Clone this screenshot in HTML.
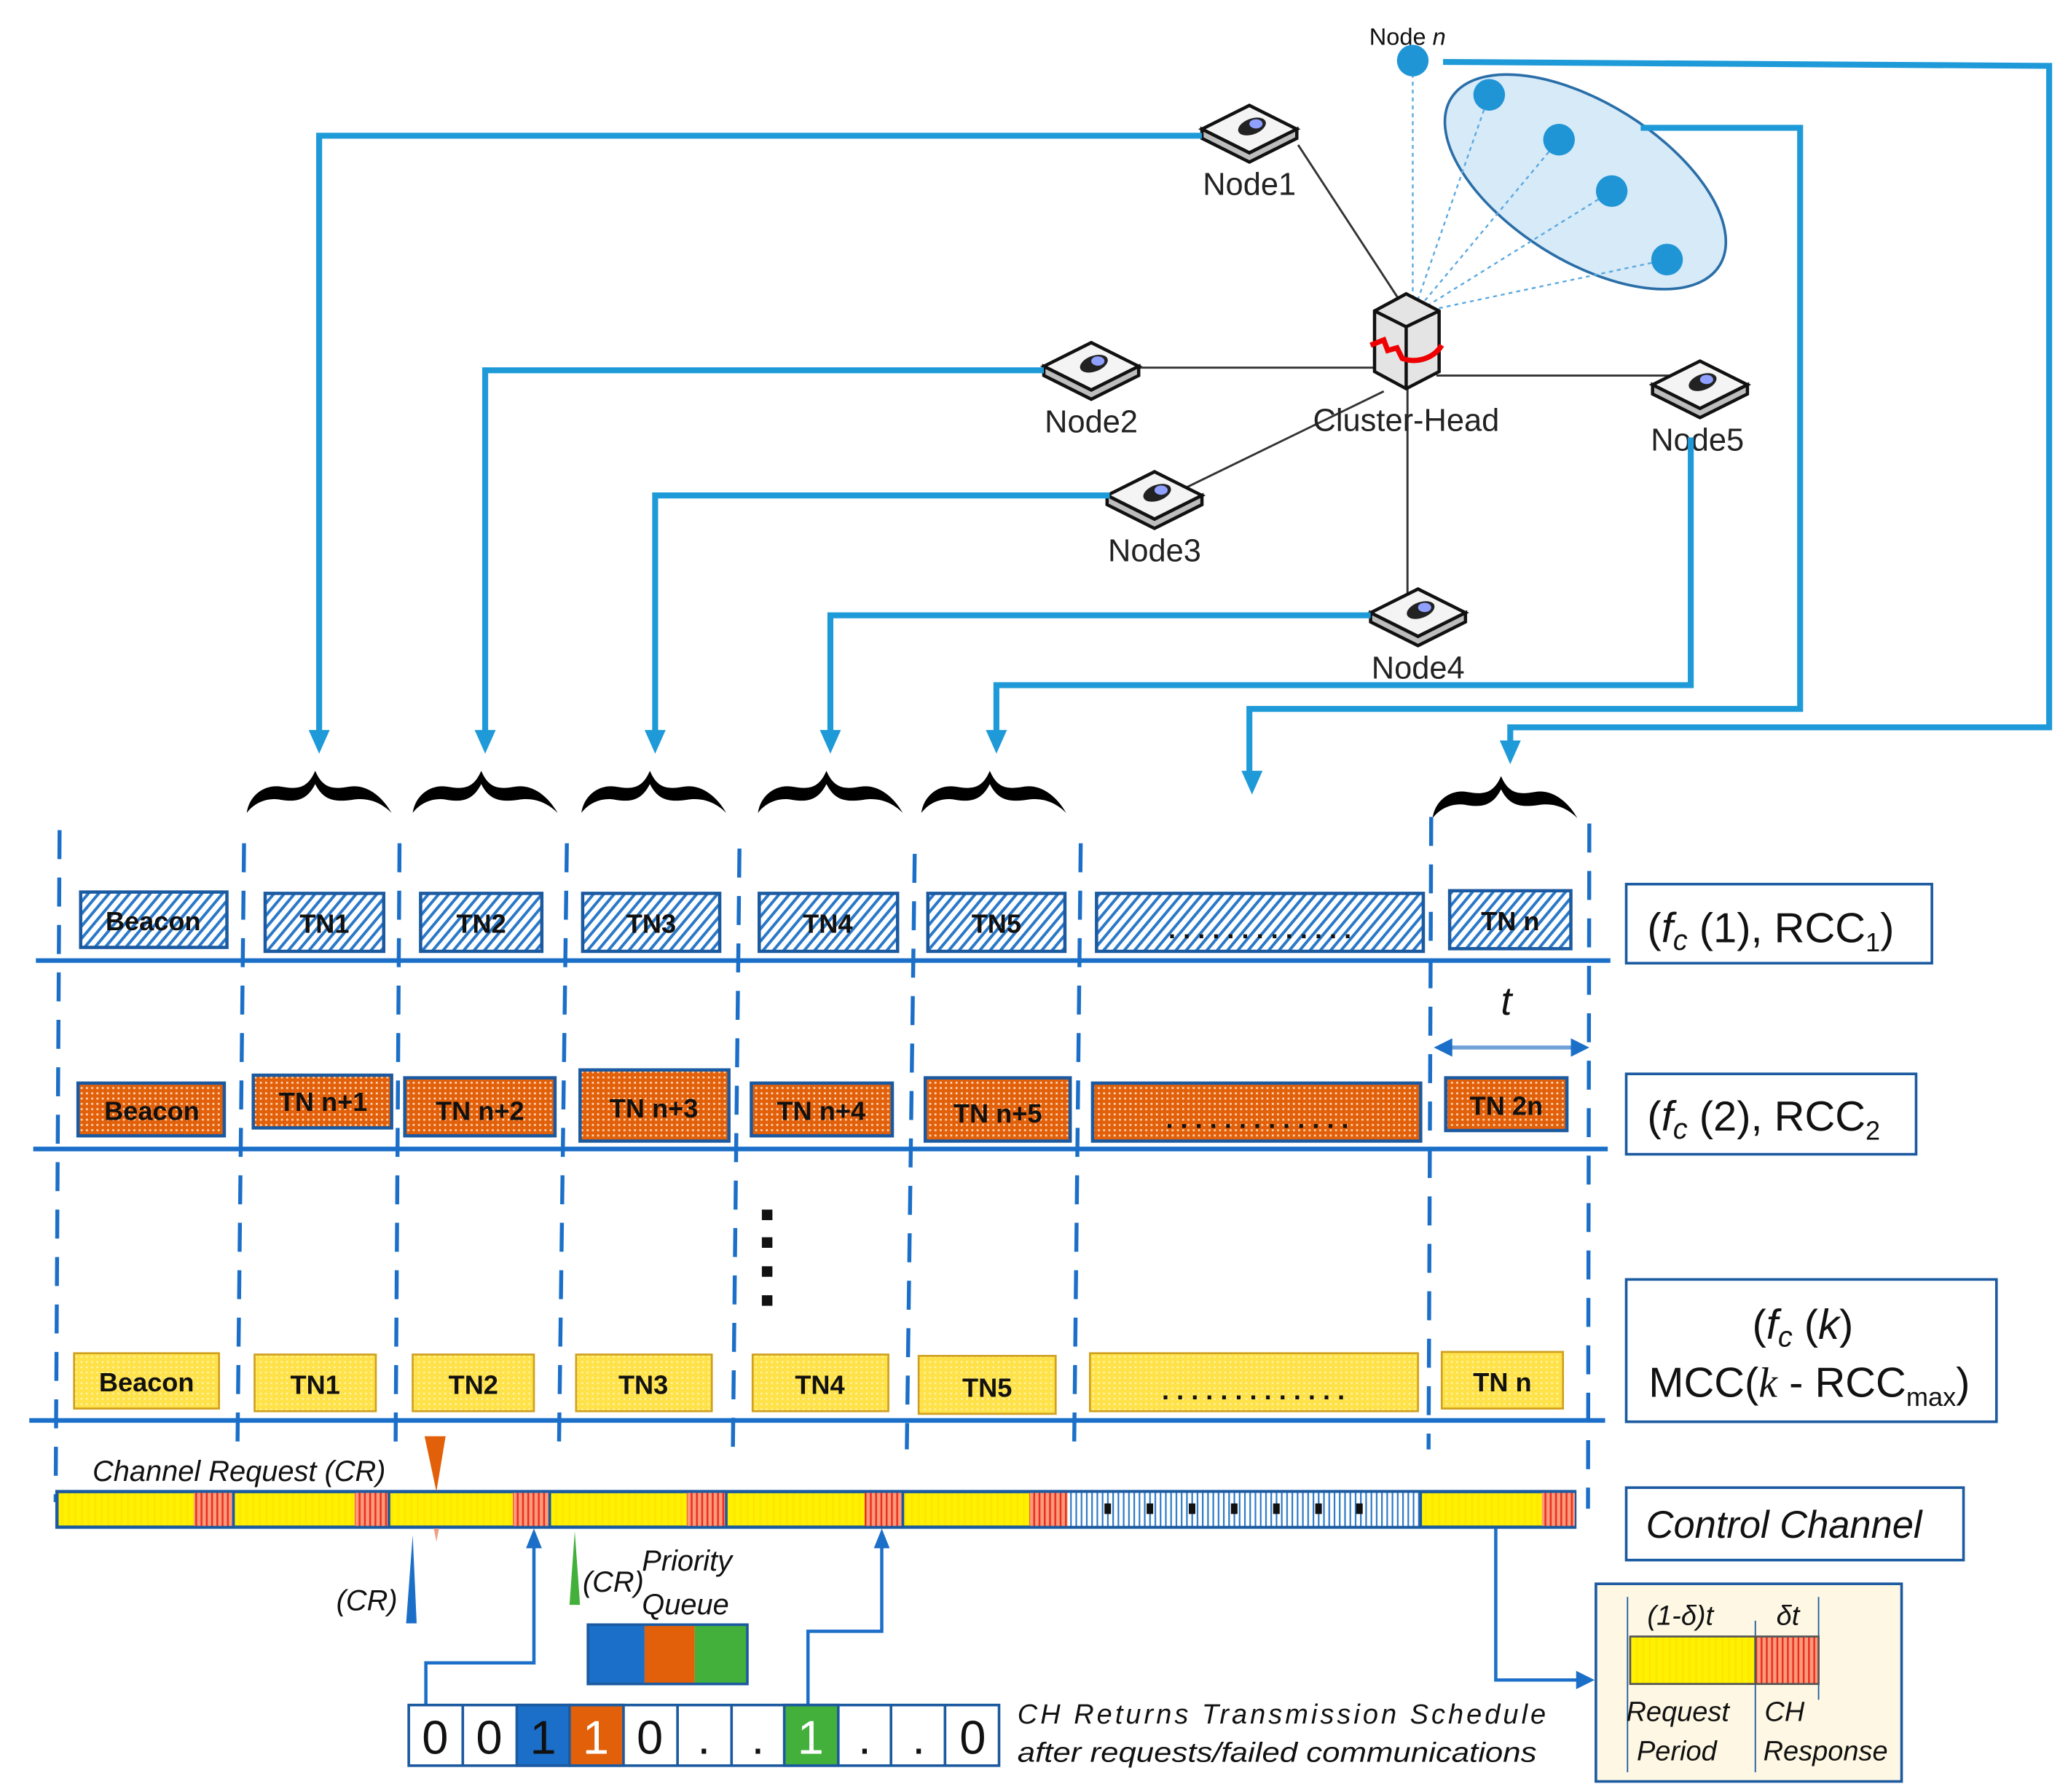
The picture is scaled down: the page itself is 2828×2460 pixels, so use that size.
<!DOCTYPE html>
<html><head><meta charset="utf-8"><style>
html,body{margin:0;padding:0;background:#fff;}
svg{display:block}
text{font-family:"Liberation Sans",sans-serif;}
.b{font-weight:bold;font-size:20px;fill:#111;text-anchor:middle;}
.n{font-size:24px;fill:#222;text-anchor:middle;}
.it{font-style:italic;fill:#111;}
</style></head><body>
<svg width="2828" height="2460" viewBox="0 0 1563 1360" xmlns="http://www.w3.org/2000/svg">
<defs>
<pattern id="hatch" width="6" height="6" patternUnits="userSpaceOnUse" patternTransform="rotate(40)">
<rect width="6" height="6" fill="#fff"/><rect width="2.2" height="6" fill="#2a78c8"/></pattern>
<pattern id="dots" width="4" height="4" patternUnits="userSpaceOnUse">
<rect width="4" height="4" fill="#e2600a"/><rect x="1" y="1" width="1.5" height="1.5" fill="#ffd9b8"/></pattern>
<pattern id="yel" width="5" height="4" patternUnits="userSpaceOnUse">
<rect width="5" height="4" fill="#fff200"/><rect x="1" width="2" height="4" fill="#ffe800"/></pattern>
<pattern id="ydots" width="4" height="4" patternUnits="userSpaceOnUse">
<rect width="4" height="4" fill="#ffe24a"/><rect x="1" y="1" width="1.3" height="1.3" fill="#fff6b0"/></pattern>
<pattern id="red" width="4" height="4" patternUnits="userSpaceOnUse">
<rect width="4" height="4" fill="#ff9a7a"/><rect width="1.4" height="4" fill="#e83020"/></pattern>
<pattern id="vbl" width="4" height="4" patternUnits="userSpaceOnUse">
<rect width="4" height="4" fill="#fff"/><rect width="1.2" height="4" fill="#2a78c8"/></pattern>
<g id="node">
<polygon points="-36,0 0,-18 36,0 0,18" fill="#f4f4f4" stroke="#111" stroke-width="2.5"/>
<polygon points="-36,0 0,18 36,0 36,7 0,25 -36,7" fill="#bdbdbd" stroke="#111" stroke-width="2.5"/>
<ellipse cx="2" cy="-2" rx="11" ry="6" fill="#222" transform="rotate(-20 2 -2)"/>
<ellipse cx="5" cy="-4" rx="5" ry="3.5" fill="#8fa0ff"/>
</g>
<path id="ah" d="M-8,-18 L8,-18 L0,0 Z" fill="#1f9ad8"/>
</defs>

<!-- cluster links -->
<g stroke="#333" stroke-width="1.6">
<line x1="985" y1="110" x2="1062" y2="228"/>
<line x1="860" y1="279" x2="1045" y2="279"/>
<line x1="1090" y1="285" x2="1270" y2="285"/>
<line x1="1050" y1="297" x2="900" y2="370"/>
<line x1="1068" y1="290" x2="1068" y2="452"/>
</g>
<ellipse cx="1203" cy="138" rx="120" ry="60" transform="rotate(32 1203 138)" fill="#d6eaf8" stroke="#2a6ea8" stroke-width="2"/>
<g stroke="#5aa8e0" stroke-width="1.3" stroke-dasharray="3,3">
<line x1="1072" y1="50" x2="1072" y2="228"/>
<line x1="1130" y1="72" x2="1075" y2="230"/>
<line x1="1183" y1="106" x2="1078" y2="232"/>
<line x1="1223" y1="145" x2="1080" y2="234"/>
<line x1="1265" y1="197" x2="1082" y2="236"/>
</g>
<g fill="#1f95d6"><circle cx="1072" cy="46" r="12"/><circle cx="1130" cy="72" r="12"/><circle cx="1183" cy="106" r="12"/><circle cx="1223" cy="145" r="12"/><circle cx="1265" cy="197" r="12"/></g>
<text x="1068" y="34" font-size="18" fill="#111" text-anchor="middle">Node <tspan font-style="italic">n</tspan></text>

<!-- cluster head -->
<g stroke="#111" stroke-width="2.5">
<polygon points="1043,236 1067,223 1092,236 1092,282 1067,295 1043,282" fill="#e4e4e4"/>
<polyline points="1043,236 1067,248 1092,236" fill="none"/>
<line x1="1067" y1="248" x2="1067" y2="295"/>
</g>
<path d="M1040,262 L1050,258 L1053,266 L1060,264 L1064,272 C1075,276 1088,272 1094,262" stroke="#e00" stroke-width="4" fill="none"/>
<text x="1067" y="327" class="n">Cluster-Head</text>

<use href="#node" x="948" y="98"/><text x="948" y="148" class="n">Node1</text>
<use href="#node" x="828" y="278"/><text x="828" y="328" class="n">Node2</text>
<use href="#node" x="876" y="376"/><text x="876" y="426" class="n">Node3</text>
<use href="#node" x="1076" y="465"/><text x="1076" y="515" class="n">Node4</text>
<use href="#node" x="1290" y="292"/><text x="1288" y="342" class="n">Node5</text>

<!-- blue connectors -->
<g stroke="#1f9ad8" stroke-width="4.5" fill="none">
<polyline points="912,103 242,103 242,556"/>
<polyline points="792,281 368,281 368,556"/>
<polyline points="842,376 497,376 497,556"/>
<polyline points="1040,467 630,467 630,556"/>
<polyline points="1283,332 1283,520 756,520 756,556"/>
<polyline points="1245,97 1366,97 1366,538 948,538 948,588"/>
<polyline points="1095,47 1555,50 1555,552 1146,552 1146,566"/>
</g>
<use href="#ah" x="242" y="572"/>
<use href="#ah" x="368" y="572"/>
<use href="#ah" x="497" y="572"/>
<use href="#ah" x="630" y="572"/>
<use href="#ah" x="756" y="572"/>
<use href="#ah" x="950" y="603"/>
<use href="#ah" x="1146" y="580"/>

<!-- braces -->
<g fill="#000">
<path id="br" d="M0,32 C2,18 14,10 26,12 C38,14 46,14 52,0 C58,14 66,14 78,12 C90,10 102,18 110,32 C102,24 92,20 80,22 C66,24 58,22 52,10 C46,22 38,24 26,22 C16,20 6,24 0,32 Z" transform="translate(187,585)"/>
<use href="#br" x="126" y="0"/>
<use href="#br" x="254" y="0"/>
<use href="#br" x="388" y="0"/>
<use href="#br" x="512" y="0"/>
<use href="#br" x="900" y="4"/>
</g>

<!-- vertical dashed -->
<g stroke="#1b6fc8" stroke-width="3" stroke-dasharray="22,14">
<line x1="45" y1="630" x2="42" y2="1140"/>
<line x1="185" y1="640" x2="180" y2="1100"/>
<line x1="303" y1="640" x2="300" y2="1100"/>
<line x1="430" y1="640" x2="424" y2="1100"/>
<line x1="561" y1="644" x2="556" y2="1100"/>
<line x1="694" y1="648" x2="688" y2="1100"/>
<line x1="820" y1="640" x2="815" y2="1100"/>
<line x1="1086" y1="620" x2="1084" y2="1100"/>
<line x1="1206" y1="625" x2="1205" y2="1145"/>
</g>

<!-- row lines -->
<g stroke="#1b6fc8" stroke-width="3.5">
<line x1="27" y1="729" x2="1222" y2="729"/>
<line x1="25" y1="872" x2="1220" y2="872"/>
<line x1="22" y1="1078" x2="1218" y2="1078"/>
</g>

<!-- row1 -->
<g stroke="#1b5aa0" stroke-width="2.5" fill="url(#hatch)">
<rect x="61" y="677" width="111" height="42"/>
<rect x="201" y="678" width="90" height="44"/>
<rect x="319" y="678" width="92" height="44"/>
<rect x="442" y="678" width="104" height="44"/>
<rect x="576" y="678" width="105" height="44"/>
<rect x="704" y="678" width="104" height="44"/>
<rect x="832" y="678" width="248" height="44"/>
<rect x="1100" y="676" width="92" height="44"/>
</g>
<text x="116" y="706" class="b">Beacon</text><text x="246" y="708" class="b">TN1</text><text x="365" y="708" class="b">TN2</text><text x="494" y="708" class="b">TN3</text><text x="628" y="708" class="b">TN4</text><text x="756" y="708" class="b">TN5</text><text x="956" y="712" class="b" font-size="24">. . . . . . . . . . . . .</text><text x="1146" y="706" class="b">TN n</text>

<text x="1143" y="770" class="it" font-size="30" text-anchor="middle">t</text>
<line x1="1098" y1="795" x2="1196" y2="795" stroke="#6fa0d8" stroke-width="3"/>
<path d="M1088,795 L1102,788 L1102,802 Z M1206,795 L1192,788 L1192,802 Z" fill="#1b6fc8"/>

<!-- row2 -->
<g stroke="#1b5aa0" stroke-width="2.5" fill="url(#dots)">
<rect x="59" y="822" width="111" height="40"/>
<rect x="192" y="816" width="105" height="40"/>
<rect x="307" y="818" width="114" height="44"/>
<rect x="440" y="812" width="113" height="54"/>
<rect x="570" y="822" width="107" height="40"/>
<rect x="702" y="818" width="110" height="48"/>
<rect x="829" y="822" width="249" height="44"/>
<rect x="1097" y="818" width="92" height="40"/>
</g>
<text x="115" y="850" class="b">Beacon</text><text x="245" y="843" class="b">TN n+1</text><text x="364" y="850" class="b">TN n+2</text><text x="496" y="848" class="b">TN n+3</text><text x="623" y="850" class="b">TN n+4</text><text x="757" y="852" class="b">TN n+5</text><text x="954" y="856" class="b" font-size="24">. . . . . . . . . . . . .</text><text x="1143" y="846" class="b">TN 2n</text>

<g fill="#111"><rect x="578" y="918" width="8" height="8"/><rect x="578" y="939" width="8" height="8"/><rect x="578" y="961" width="8" height="8"/><rect x="578" y="983" width="8" height="8"/></g>

<!-- row3 -->
<g stroke="#d0a020" stroke-width="1.5" fill="url(#ydots)">
<rect x="56" y="1027" width="110" height="42"/>
<rect x="193" y="1028" width="92" height="43"/>
<rect x="313" y="1028" width="92" height="43"/>
<rect x="437" y="1028" width="103" height="43"/>
<rect x="571" y="1028" width="103" height="43"/>
<rect x="697" y="1029" width="104" height="44"/>
<rect x="827" y="1027" width="249" height="44"/>
<rect x="1094" y="1026" width="92" height="43"/>
</g>
<text x="111" y="1056" class="b">Beacon</text><text x="239" y="1058" class="b">TN1</text><text x="359" y="1058" class="b">TN2</text><text x="488" y="1058" class="b">TN3</text><text x="622" y="1058" class="b">TN4</text><text x="749" y="1060" class="b">TN5</text><text x="951" y="1062" class="b" font-size="24">. . . . . . . . . . . . .</text><text x="1140" y="1056" class="b">TN n</text>

<!-- right label boxes -->
<g fill="#fff" stroke="#1b5aa0" stroke-width="2">
<rect x="1234" y="671" width="232" height="60"/>
<rect x="1234" y="815" width="220" height="61"/>
<rect x="1234" y="971" width="281" height="108"/>
<rect x="1234" y="1129" width="256" height="55"/>
</g>
<text x="1250" y="715" font-size="32" fill="#111" font-family="Liberation Serif">(<tspan font-style="italic">f</tspan><tspan font-style="italic" font-size="22" dy="6">c</tspan><tspan dy="-6"> (1), </tspan><tspan font-family="Liberation Sans">RCC</tspan><tspan font-size="20" dy="7" font-family="Liberation Sans">1</tspan><tspan dy="-7">)</tspan></text>
<text x="1250" y="858" font-size="32" fill="#111" font-family="Liberation Serif">(<tspan font-style="italic">f</tspan><tspan font-style="italic" font-size="22" dy="6">c</tspan><tspan dy="-6"> (2), </tspan><tspan font-family="Liberation Sans">RCC</tspan><tspan font-size="20" dy="7" font-family="Liberation Sans">2</tspan></text>
<text x="1368" y="1016" font-size="32" fill="#111" text-anchor="middle" font-family="Liberation Serif">(<tspan font-style="italic">f</tspan><tspan font-style="italic" font-size="22" dy="6">c</tspan><tspan dy="-6"> (</tspan><tspan font-style="italic">k</tspan>)</text>
<text x="1251" y="1060" font-size="32" fill="#111" font-family="Liberation Sans">MCC(<tspan font-style="italic" font-family="Liberation Serif">k</tspan> - RCC<tspan font-size="20" dy="7">max</tspan><tspan dy="-7">)</tspan></text>
<text x="1249" y="1167" font-size="29" class="it">Control Channel</text>

<!-- control channel bar -->
<rect x="43" y="1132" width="1152" height="27" fill="url(#yel)" stroke="#1b5aa0" stroke-width="2.5"/>
<g fill="url(#red)">
<rect x="147" y="1133" width="30" height="25"/><rect x="269" y="1133" width="26" height="25"/><rect x="389" y="1133" width="28" height="25"/><rect x="521" y="1133" width="30" height="25"/><rect x="656" y="1133" width="29" height="25"/><rect x="781" y="1133" width="29" height="25"/><rect x="1170" y="1133" width="25" height="25"/>
</g>
<rect x="810" y="1133" width="268" height="25" fill="url(#vbl)"/>
<g stroke="#1b5aa0" stroke-width="2"><line x1="177" y1="1132" x2="177" y2="1159"/><line x1="295" y1="1132" x2="295" y2="1159"/><line x1="417" y1="1132" x2="417" y2="1159"/><line x1="551" y1="1132" x2="551" y2="1159"/><line x1="685" y1="1132" x2="685" y2="1159"/><line x1="1078" y1="1132" x2="1078" y2="1159"/></g>
<g fill="#111"><rect x="838" y="1141" width="5" height="8"/><rect x="870" y="1141" width="5" height="8"/><rect x="902" y="1141" width="5" height="8"/><rect x="934" y="1141" width="5" height="8"/><rect x="966" y="1141" width="5" height="8"/><rect x="998" y="1141" width="5" height="8"/><rect x="1029" y="1141" width="5" height="8"/></g>

<text x="70" y="1124" font-size="22" class="it">Channel Request (CR)</text>
<path d="M322,1090 L338,1090 L331,1132 Z" fill="#e2600a"/>
<path d="M329,1160 L333,1160 L331,1170 Z" fill="#f0a080"/>
<path d="M313,1165 L316,1232 L308,1232 Z" fill="#1b6fc8"/>
<text x="255" y="1222" font-size="22" class="it">(CR)</text>
<path d="M436,1162 L440,1218 L432,1218 Z" fill="#44b03c"/>
<text x="442" y="1208" font-size="22" class="it">(CR)</text>
<text x="487" y="1192" font-size="22" class="it">Priority</text>
<text x="487" y="1225" font-size="22" class="it">Queue</text>
<rect x="446" y="1233" width="43" height="45" fill="#1b6fc8"/><rect x="489" y="1233" width="38" height="45" fill="#e2600a"/><rect x="527" y="1233" width="40" height="45" fill="#44b03c"/>
<rect x="446" y="1233" width="121" height="45" fill="none" stroke="#1b5aa0" stroke-width="2"/>

<!-- arrows from bit box -->
<g stroke="#1b6fc8" stroke-width="2.5" fill="none">
<polyline points="323,1294 323,1262 405,1262 405,1172"/>
<polyline points="613,1294 613,1238 669,1238 669,1172"/>
<polyline points="1135,1160 1135,1275 1198,1275"/>
</g>
<path d="M405,1160 L399,1175 L411,1175 Z M669,1160 L663,1175 L675,1175 Z M1210,1275 L1196,1268 L1196,1282 Z" fill="#1b6fc8"/>

<!-- bit box -->
<g stroke="#1b5aa0" stroke-width="2">
<rect x="310" y="1294" width="448" height="46" fill="#fff"/>
<rect x="392" y="1294" width="40" height="46" fill="#1b6fc8"/>
<rect x="432" y="1294" width="41" height="46" fill="#e2600a"/>
<rect x="595" y="1294" width="41" height="46" fill="#44b03c"/>
<line x1="351" y1="1294" x2="351" y2="1340"/><line x1="514" y1="1294" x2="514" y2="1340"/><line x1="555" y1="1294" x2="555" y2="1340"/><line x1="676" y1="1294" x2="676" y2="1340"/><line x1="717" y1="1294" x2="717" y2="1340"/>
</g>
<g font-size="36" text-anchor="middle" fill="#111">
<text x="330" y="1331">0</text><text x="371" y="1331">0</text><text x="412" y="1331">1</text><text x="452" y="1331" fill="#fff">1</text><text x="493" y="1331">0</text><text x="534" y="1331">.</text><text x="575" y="1331">.</text><text x="615" y="1331" fill="#fff">1</text><text x="656" y="1331">.</text><text x="697" y="1331">.</text><text x="738" y="1331">0</text>
</g>
<text x="772" y="1308" font-size="21" class="it" textLength="401" lengthAdjust="spacing">CH   Returns   Transmission   Schedule</text>
<text x="772" y="1337" font-size="21" class="it" textLength="394" lengthAdjust="spacingAndGlyphs">after requests/failed communications</text>

<!-- inset -->
<rect x="1211" y="1202" width="232" height="150" fill="#fdf7e3" stroke="#1b5aa0" stroke-width="2"/>
<g stroke="#1b5aa0" stroke-width="1"><line x1="1235" y1="1212" x2="1235" y2="1345"/><line x1="1332" y1="1230" x2="1332" y2="1345"/><line x1="1380" y1="1212" x2="1380" y2="1290"/></g>
<rect x="1237" y="1242" width="95" height="36" fill="url(#yel)" stroke="#555" stroke-width="1.5"/>
<rect x="1332" y="1242" width="48" height="36" fill="url(#red)" stroke="#555" stroke-width="1.5"/>
<text x="1250" y="1233" font-size="21" class="it">(1-δ)t</text>
<text x="1348" y="1233" font-size="21" class="it">δt</text>
<text x="1234" y="1306" font-size="21" class="it">Request</text>
<text x="1242" y="1336" font-size="21" class="it">Period</text>
<text x="1339" y="1306" font-size="21" class="it">CH</text>
<text x="1338" y="1336" font-size="21" class="it">Response</text>
</svg>
</body></html>
